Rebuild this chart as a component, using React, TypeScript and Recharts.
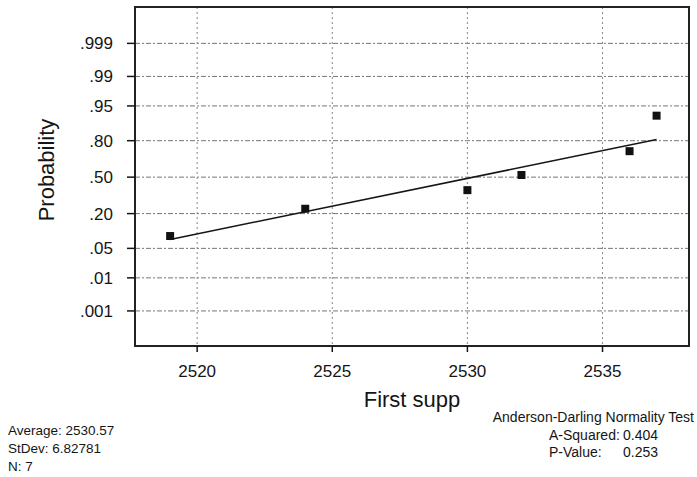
import {
  ComposedChart,
  Scatter,
  XAxis,
  YAxis,
  ZAxis,
  CartesianGrid,
  ReferenceArea,
} from "recharts";

// x axis (First supp)
const X_TICKS = [2520, 2525, 2530, 2535];
const X_DOMAIN: [number, number] = [2517.7, 2538.2];

// probability axis: labels and their normal scores
const PROB_LABELS = [".001", ".01", ".05", ".20", ".50", ".80", ".95", ".99", ".999"];
const PROB_Z = [-3.09, -2.326, -1.645, -0.842, 0, 0.842, 1.645, 2.326, 3.09];
const Z_DOMAIN: [number, number] = [-3.9, 3.93];

const OBS_X = [2519, 2524, 2530, 2532, 2536, 2537];
const OBS_Z = [-1.36, -0.73, -0.3, 0.05, 0.6, 1.42];

// fitted line end points
const FIT_X = [2519, 2537];
const FIT_Z = [-1.44, 0.87];

const FONT = "'Liberation Sans', Arial, sans-serif";
const INK = "#151515";

const obsData = OBS_X.map((x, i) => ({ x, z: OBS_Z[i] }));
const fitData = FIT_X.map((x, i) => ({ x, z: FIT_Z[i] }));

const probLabel = (v: number) => {
  const i = PROB_Z.indexOf(v);
  return i >= 0 ? PROB_LABELS[i] : "";
};

export default function App() {
  return (
    <div style={{ position: "absolute", left: 0, top: 0, width: 697, height: 477, background: "#fff" }}>
      <ComposedChart
        width={697}
        height={477}
        margin={{ top: 7, right: 8, bottom: 0, left: 0 }}
      >
        {/* horizontal dashed grid */}
        <CartesianGrid
          vertical={false}
          stroke="#777"
          strokeDasharray="5 2 2 2"
        />
        {/* vertical dotted grid */}
        <CartesianGrid
          horizontal={false}
          stroke="#888"
          strokeDasharray="2 3"
        />
        <XAxis
          type="number"
          dataKey="x"
          domain={X_DOMAIN}
          ticks={X_TICKS}
          allowDataOverflow
          height={131}
          axisLine={false}
          tickSize={6}
          tickMargin={13}
          tickLine={{ stroke: INK, strokeWidth: 1.5 }}
          tick={{ fill: INK, fontSize: 17, fontFamily: FONT }}
        />
        <YAxis
          type="number"
          dataKey="z"
          domain={Z_DOMAIN}
          ticks={PROB_Z}
          allowDataOverflow
          width={135}
          axisLine={false}
          tickSize={8}
          tickMargin={14}
          tickFormatter={probLabel}
          tickLine={{ stroke: INK, strokeWidth: 1.5 }}
          tick={{ fill: INK, fontSize: 17, fontFamily: FONT }}
        />
        <ZAxis range={[60, 60]} />
        <ReferenceArea
          x1={X_DOMAIN[0]}
          x2={X_DOMAIN[1]}
          y1={Z_DOMAIN[0]}
          y2={Z_DOMAIN[1]}
          fill="none"
          stroke="#222"
          strokeWidth={2}
          ifOverflow="visible"
        />
        <Scatter
          data={fitData}
          line={{ stroke: INK, strokeWidth: 1.5 }}
          shape={() => <g />}
          isAnimationActive={false}
        />
        <Scatter
          data={obsData}
          shape="square"
          fill="#111"
          isAnimationActive={false}
        />
      </ComposedChart>

      <svg
        width={697}
        height={477}
        style={{ position: "absolute", left: 0, top: 0, pointerEvents: "none" }}
        fontFamily={FONT}
        fill={INK}
      >
        <text x={54} y={170} fontSize={22} textAnchor="middle" transform="rotate(-90 54 170)">
          Probability
        </text>
        <text x={412} y={407} fontSize={22} textAnchor="middle">
          First supp
        </text>

        <text x={8} y={435} fontSize={13.5}>Average: 2530.57</text>
        <text x={8} y={453} fontSize={13.5}>StDev: 6.82781</text>
        <text x={8} y={471} fontSize={13.5}>N: 7</text>

        <text x={694} y={422} fontSize={14} textAnchor="end">Anderson-Darling Normality Test</text>
        <text x={549} y={440} fontSize={14}>A-Squared:</text>
        <text x={623} y={440} fontSize={14}>0.404</text>
        <text x={549} y={457} fontSize={14}>P-Value:</text>
        <text x={623} y={457} fontSize={14}>0.253</text>
      </svg>
    </div>
  );
}
